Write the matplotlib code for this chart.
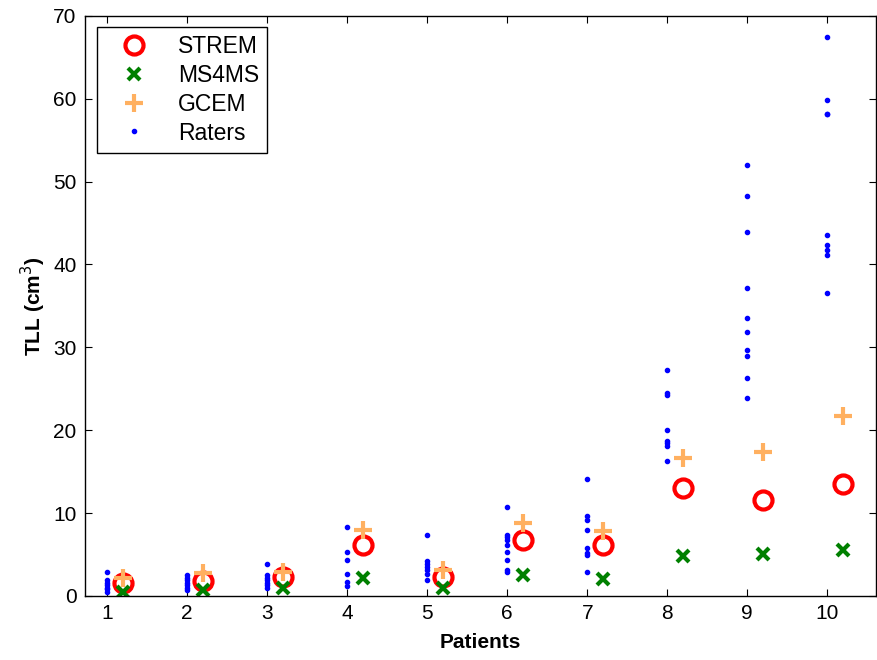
import matplotlib
matplotlib.use("Agg")
import matplotlib.pyplot as plt
import numpy as np

plt.rcParams['font.family'] = ['Liberation Sans', 'DejaVu Sans']

patients = np.arange(1, 11)

# algorithm estimates (cm^3)
strem = [1.6, 1.85, 2.3, 6.1, 2.3, 6.7, 6.1, 13.0, 11.6, 13.5]
ms4ms = [0.5, 0.7, 1.0, 2.2, 1.0, 2.5, 2.1, 4.8, 5.1, 5.5]
gcem = [2.2, 2.8, 2.9, 8.0, 3.1, 8.8, 7.8, 16.7, 17.4, 21.7]

# manual rater volumes per patient
raters = [
    [2.9, 1.9, 1.6, 1.3, 1.0, 0.8, 0.5],
    [2.5, 2.2, 1.9, 1.6, 1.3, 1.0, 0.7],
    [3.8, 2.5, 2.2, 1.9, 1.6, 1.3, 1.0],
    [8.3, 5.3, 4.4, 2.7, 1.7, 1.2],
    [7.4, 4.2, 3.9, 3.5, 3.1, 2.7, 1.9],
    [10.7, 7.4, 7.1, 6.8, 6.2, 5.3, 4.4, 3.1, 2.9],
    [14.1, 9.6, 9.2, 8.0, 5.8, 5.2, 4.9, 2.9],
    [27.3, 24.5, 24.3, 20.0, 18.7, 18.4, 18.1, 16.3],
    [52.0, 48.3, 43.9, 37.2, 33.6, 31.8, 29.7, 29.0, 26.3, 23.9],
    [67.4, 59.9, 58.2, 58.1, 43.6, 42.4, 41.7, 41.1, 36.6],
]

fig = plt.figure(figsize=(8.77, 6.6), dpi=100)
ax = fig.add_axes([0.097, 0.097, 0.902, 0.879])

offset = 0.2
ax.plot(patients + offset, strem, 'o', color='red', markerfacecolor='none',
        markersize=13, markeredgewidth=3, label='STREM')
ax.plot(patients + offset, ms4ms, 'x', color='#008000',
        markersize=9, markeredgewidth=3, label='MS4MS')
ax.plot(patients + offset, gcem, '+', color='#FFB060',
        markersize=13, markeredgewidth=3, label='GCEM')

rx = np.concatenate([[p] * len(r) for p, r in zip(patients, raters)])
ry = np.concatenate(raters)
ax.plot(rx, ry, '.', color='blue', markersize=6, label='Raters')

ax.set_xlim(0.725, 10.61)
ax.set_ylim(0, 70)
ax.set_xticks(patients)
ax.set_yticks(np.arange(0, 71, 10))
ax.tick_params(direction='in', top=True, right=True, labelsize=15, length=5, pad=6)
for s in ax.spines.values():
    s.set_linewidth(1.0)

ax.set_xlabel('Patients', fontsize=15, fontweight='bold', labelpad=7)
ax.set_ylabel('TLL (cm$^3$)', fontsize=15, fontweight='bold', labelpad=4)

leg = ax.legend(loc='upper left', fontsize=16.5, fancybox=False, framealpha=1,
                edgecolor='black', borderaxespad=0.5, handlelength=2.6,
                handletextpad=0.6, labelspacing=0.25, borderpad=0.35)
leg.get_frame().set_linewidth(1.0)

fig.savefig('out.png', dpi=100)
